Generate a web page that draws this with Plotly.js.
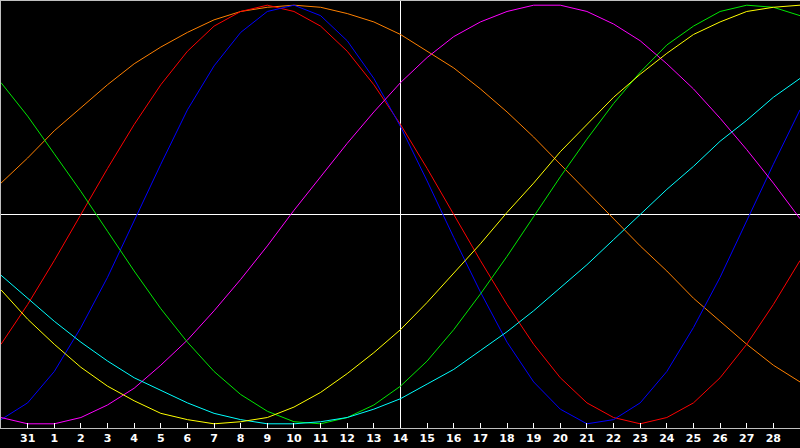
<!DOCTYPE html>
<html>
<head>
<meta charset="utf-8">
<script src="https://cdn.plot.ly/plotly-3.0.1.min.js"></script>
<style>
  html, body { margin: 0; padding: 0; background: #000; }
  #chart { width: 800px; height: 448px; }
</style>
</head>
<body>
<div id="chart"></div>
<script>
// one point per day, 30 Jan .. 1 Mar
const days = [30, 31, 1, 2, 3, 4, 5, 6, 7, 8, 9, 10, 11, 12, 13, 14, 15, 16, 17, 18, 19, 20, 21, 22, 23, 24, 25, 26, 27, 28, 1]
const today = 15  // position of the 14th

const physical = [-98, -90, -75, -54, -30, -3, 24, 50, 71, 87, 97, 100, 95, 83, 65, 42, 16, -11, -37, -61, -80, -93, -100, -98, -90, -75, -54, -30, -3, 24, 50]
const emotional = [-62, -43, -22, 0, 22, 43, 62, 78, 90, 97, 100, 97, 90, 78, 62, 43, 22, 0, -22, -43, -62, -78, -90, -97, -100, -97, -90, -78, -62, -43, -22]
const intellectual = [63, 47, 29, 11, -8, -27, -45, -61, -75, -86, -94, -99, -100, -97, -91, -82, -70, -55, -38, -20, -1, 18, 36, 53, 68, 81, 90, 97, 100, 99, 95]
const intuitive = [-97, -100, -100, -97, -91, -83, -72, -60, -46, -31, -15, 2, 18, 34, 49, 63, 75, 85, 92, 97, 100, 100, 97, 91, 83, 72, 60, 46, 31, 15, -2]
const aesthetic = [-36, -50, -62, -73, -82, -89, -95, -98, -100, -99, -97, -92, -85, -76, -66, -55, -42, -28, -14, 1, 15, 30, 43, 56, 67, 77, 86, 92, 97, 99, 100]
const awareness = [15, 27, 40, 51, 62, 72, 80, 87, 93, 97, 99, 100, 99, 96, 92, 86, 78, 70, 60, 49, 37, 24, 11, -2, -15, -27, -40, -51, -62, -72, -80]
const spiritual = [-29, -40, -51, -61, -70, -78, -84, -90, -95, -98, -100, -100, -99, -97, -93, -88, -81, -74, -65, -56, -46, -35, -24, -12, 0, 12, 23, 35, 45, 56, 65]

window.addEventListener('DOMContentLoaded', () => {
    plotCycles()
})

function plotCycles() {
    let target = document.getElementById('chart')
    let xs = days.map((d, i) => i)

    const series = [
        [awareness, '#ff8000'],
        [emotional, '#ff0000'],
        [physical, '#0000ff'],
        [intuitive, '#ff00ff'],
        [intellectual, '#00e800'],
        [spiritual, '#00ffff'],
        [aesthetic, '#ffff00'],
    ]
    const data = series.map(s => ({
        type: 'scatter',
        mode: 'lines',
        x: xs,
        y: s[0],
        line: {color: s[1], width: 1},
        hoverinfo: 'skip'
    }))

    const layout = {
        width: 800,
        height: 448,
        margin: {l: 1, r: 0, t: 1, b: 20, pad: 0},
        paper_bgcolor: '#000000',
        plot_bgcolor: '#000000',
        showlegend: false,
        xaxis: {
            range: [0, days.length - 1],
            tickvals: xs.slice(1, -1),
            ticktext: days.slice(1, -1).map(String),
            ticks: 'inside',
            ticklen: 5,
            tickwidth: 1,
            tickcolor: '#ffffff',
            tickfont: {family: 'DejaVu Sans', size: 11, color: '#ffffff', weight: 'bold'},
            showgrid: false,
            zeroline: false,
            showline: true,
            mirror: true,
            linecolor: '#c0c0c0',
            linewidth: 1,
            fixedrange: true
        },
        yaxis: {
            range: [-102, 102],
            showticklabels: false,
            ticks: '',
            showgrid: false,
            zeroline: true,
            zerolinecolor: '#ffffff',
            zerolinewidth: 1,
            showline: true,
            linecolor: '#c0c0c0',
            linewidth: 1,
            fixedrange: true
        },
        shapes: [{
            type: 'line',
            xref: 'x', yref: 'paper',
            x0: today, x1: today, y0: 0, y1: 1,
            line: {color: '#ffffff', width: 1},
            layer: 'below'
        }]
    }
    const config = {staticPlot: true}

    Plotly.newPlot(target, data, layout, config)
}
</script>
</body>
</html>
